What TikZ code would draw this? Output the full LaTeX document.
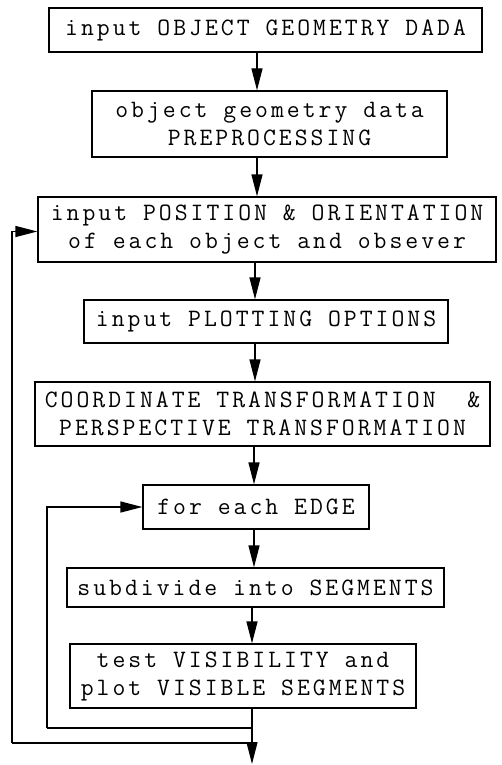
\documentclass[tikz,border=0pt]{standalone}
\usepackage{fontspec}
\setmonofont{Latin Modern Mono}[LetterSpace=12]
\usetikzlibrary{arrows.meta}
\begin{document}
\begin{tikzpicture}[x=1pt,y=-1pt,
  box/.style={draw,line width=1.3pt,rectangle,inner sep=0pt,align=center,
    font=\ttfamily\fontsize{25}{28}\selectfont},
  flow/.style={line width=1.3pt,-{Triangle[length=22pt,width=11pt]}},
  line/.style={line width=1.1pt}]
\useasboundingbox (0,0) rectangle (501,765);
\node[box,minimum width=433pt,minimum height=44pt] (b1) at (265.5,30) {input OBJECT GEOMETRY DADA};
\node[box,minimum width=355pt,minimum height=66pt] (b2) at (269.5,124) {object geometry data\\PREPROCESSING};
\node[box,minimum width=458pt,minimum height=65pt] (b3) at (267,229.5) {input POSITION \& ORIENTATION\\of each object and obsever};
\node[box,minimum width=364pt,minimum height=43pt] (b4) at (266,321.5) {input PLOTTING OPTIONS};
\node[box,minimum width=455pt,minimum height=64pt] (b5) at (262.5,414) {COORDINATE TRANSFORMATION\ \ \&\\PERSPECTIVE TRANSFORMATION};
\node[box,minimum width=226pt,minimum height=44pt] (b6) at (256,507) {for each EDGE};
\node[box,minimum width=377pt,minimum height=39pt] (b7) at (255.5,587.5) {subdivide into SEGMENTS};
\node[box,minimum width=346pt,minimum height=64pt] (b8) at (243,676) {test VISIBILITY and\\plot VISIBLE SEGMENTS};
\coordinate (a1) at (257,0);
\coordinate (a3) at (255,0);
\coordinate (a5) at (254,0);
\coordinate (a7) at (252,0);
\coordinate (end) at (252,764);
\coordinate (j1) at (252,728);
\coordinate (j2) at (252,743);
\coordinate (L1) at (47,728);
\coordinate (L2) at (12,743);
\draw[flow] (b1.south -| a1) -- (b2.north -| a1);
\draw[flow] (b2.south -| a1) -- (b3.north -| a1);
\draw[flow] (b3.south -| a3) -- (b4.north -| a3);
\draw[flow] (b4.south -| a3) -- (b5.north -| a3);
\draw[flow] (b5.south -| a5) -- (b6.north -| a5);
\draw[flow] (b6.south -| a5) -- (b7.north -| a5);
\draw[flow] (b7.south -| a7) -- (b8.north -| a7);
\draw[flow] (b8.south -| a7) -- (end);
\draw[line] (j1) -- (L1);
\draw[flow] (L1) |- (b6.west);
\draw[line] (j2) -- (L2);
\draw[flow] (L2) |- ([yshift=-2pt]b3.west);
\end{tikzpicture}
\end{document}
